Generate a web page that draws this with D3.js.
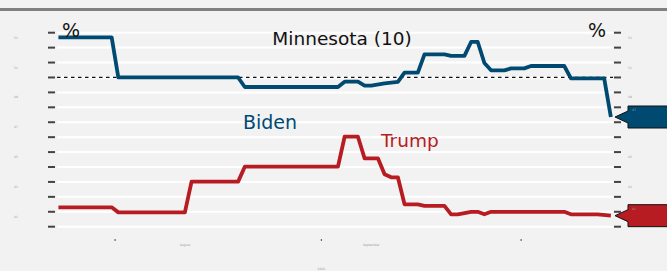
<!DOCTYPE html>
<meta charset="utf-8">

<head>
	<title>Minnesota (10)</title>
	<script src="https://d3js.org/d3.v7.min.js" charset="utf-8"></script>
</head>

<style type="text/css">

	body {
		margin: 0;
		background: #f2f2f2;
		font-family: "DejaVu Sans", sans-serif;
	}

	svg {
		display: block;
	}

	.grid line {
		stroke: #ffffff;
		stroke-width: 2px;
	}

	.ticks line {
		stroke: #444;
		stroke-width: 2px;
	}

	.tiny {
		font-size: 3px;
		fill: #999;
	}

</style>

<body>

	<script>

		var width = 667,
			height = 271;

		// poll average, %
		var biden = [
			["2020-07-23", 52.69], ["2020-07-31", 52.69], ["2020-08-01", 50.0], ["2020-08-19", 50.0],
			["2020-08-20", 49.36], ["2020-09-03", 49.36], ["2020-09-04", 49.72], ["2020-09-06", 49.72],
			["2020-09-07", 49.45], ["2020-09-08", 49.45], ["2020-09-10", 49.6], ["2020-09-12", 49.7],
			["2020-09-13", 50.32], ["2020-09-15", 50.32], ["2020-09-16", 51.55], ["2020-09-19", 51.55],
			["2020-09-20", 51.45], ["2020-09-22", 51.45], ["2020-09-23", 52.38], ["2020-09-24", 52.38],
			["2020-09-25", 50.97], ["2020-09-26", 50.48], ["2020-09-28", 50.48], ["2020-09-29", 50.61],
			["2020-10-01", 50.61], ["2020-10-02", 50.77], ["2020-10-07", 50.77], ["2020-10-08", 49.94],
			["2020-10-13", 49.94], ["2020-10-14", 47.35]
		];

		var trump = [
			["2020-07-23", 41.3], ["2020-07-31", 41.3], ["2020-08-01", 40.96], ["2020-08-11", 40.96],
			["2020-08-12", 43.02], ["2020-08-19", 43.02], ["2020-08-20", 44.02], ["2020-09-03", 44.02],
			["2020-09-04", 46.03], ["2020-09-06", 46.03], ["2020-09-07", 44.58], ["2020-09-09", 44.58],
			["2020-09-10", 43.51], ["2020-09-11", 43.31], ["2020-09-12", 43.31], ["2020-09-13", 41.5],
			["2020-09-15", 41.5], ["2020-09-16", 41.4], ["2020-09-19", 41.4], ["2020-09-20", 40.83],
			["2020-09-21", 40.83], ["2020-09-23", 41.0], ["2020-09-24", 41.0], ["2020-09-25", 40.83],
			["2020-09-26", 41.0], ["2020-10-07", 41.0], ["2020-10-08", 40.83], ["2020-10-12", 40.83],
			["2020-10-14", 40.74]
		];

		var yTicks = d3.range(40, 54);
		var yLabels = [53, 51, 49, 47, 45, 43, 41];
		var monthTicks = ["2020-08-01", "2020-09-01", "2020-10-01"];
		var monthLabels = [["2020-08-11", "August"], ["2020-09-08", "September"]];
		var threshold = 50;

		var blue = "#004a72",
			red = "#b71c22";

		// data sits at midday, month ticks at midnight
		function parse(s) {
			var p = s.split("-");
			return new Date(Date.UTC(+p[0], +p[1] - 1, +p[2], 12));
		}
		function parseDay(s) {
			var p = s.split("-");
			return new Date(Date.UTC(+p[0], +p[1] - 1, +p[2]));
		}

		var x = d3.scaleUtc()
			.domain([parseDay("2020-08-01"), parseDay("2020-10-01")])
			.range([115, 521]);

		var y = d3.scaleLinear()
			.domain([40, 53])
			.range([226.7, 32.7]);

		var svg = d3.select("body").append("svg")
			.attr("width", width)
			.attr("height", height);

		svg.append("rect")
			.attr("width", width)
			.attr("height", height)
			.attr("fill", "#f2f2f2");

		// top rule
		svg.append("rect")
			.attr("x", 0)
			.attr("y", 8)
			.attr("width", width)
			.attr("height", 3)
			.attr("fill", "#808080");

		// gridlines
		svg.append("g")
			.attr("class", "grid")
			.selectAll("line")
			.data(yTicks)
		 .enter().append("line")
			.attr("x1", 57)
			.attr("x2", 613)
			.attr("y1", function(d) { return y(d); })
			.attr("y2", function(d) { return y(d); });

		// tick marks both sides
		var ticks = svg.append("g").attr("class", "ticks");
		[[48, 55], [614, 621]].forEach(function(xs) {
			ticks.selectAll(null)
				.data(yTicks)
			 .enter().append("line")
				.attr("x1", xs[0])
				.attr("x2", xs[1])
				.attr("y1", function(d) { return y(d); })
				.attr("y2", function(d) { return y(d); });
		});

		// tiny value labels
		[14, 628].forEach(function(lx) {
			svg.selectAll(null)
				.data(yLabels)
			 .enter().append("text")
				.attr("class", "tiny")
				.attr("x", lx)
				.attr("y", function(d) { return y(d) + 6; })
				.text(function(d) { return d; });
		});

		// 50% line
		svg.append("line")
			.attr("x1", 57)
			.attr("x2", 613)
			.attr("y1", y(threshold))
			.attr("y2", y(threshold))
			.attr("stroke", "#111")
			.attr("stroke-width", 1.2)
			.attr("stroke-dasharray", "3.5,3.5");

		// month ticks + labels
		svg.selectAll(".mtick")
			.data(monthTicks)
		 .enter().append("rect")
			.attr("class", "mtick")
			.attr("x", function(d) { return x(parseDay(d)) - 0.5; })
			.attr("y", 239)
			.attr("width", 1.2)
			.attr("height", 2)
			.attr("fill", "#666");

		svg.selectAll(".mlabel")
			.data(monthLabels)
		 .enter().append("text")
			.attr("class", "tiny")
			.attr("text-anchor", "middle")
			.attr("x", function(d) { return x(parse(d[0])); })
			.attr("y", 246)
			.text(function(d) { return d[1]; });

		svg.append("text")
			.attr("class", "tiny")
			.attr("text-anchor", "middle")
			.attr("x", x(parseDay("2020-09-01")))
			.attr("y", 270)
			.text("2020");

		var line = d3.line()
			.x(function(d) { return x(parse(d[0])); })
			.y(function(d) { return y(d[1]); });

		[[biden, blue], [trump, red]].forEach(function(s) {
			svg.append("path")
				.datum(s[0])
				.attr("fill", "none")
				.attr("stroke", s[1])
				.attr("stroke-width", 3.8)
				.attr("stroke-linejoin", "round")
				.attr("d", line);

			// arrow marker on the right
			var last = s[0][s[0].length - 1],
				yv = y(last[1]);
			svg.append("path")
				.attr("d", "M615," + yv + "L628," + (yv - 6) + "L628," + (yv - 11) + "L670," + (yv - 11) +
					"L670," + (yv + 11) + "L628," + (yv + 11) + "L628," + (yv + 6) + "Z")
				.attr("fill", s[1])
				.attr("stroke", "#111")
				.attr("stroke-width", 1);
			svg.append("text")
				.attr("class", "tiny")
				.attr("x", 632)
				.attr("y", yv - 6)
				.style("fill", "#8aa")
				.text(last[1].toFixed(0));
		});

		// titles
		svg.append("text")
			.attr("x", 342)
			.attr("y", 45)
			.attr("text-anchor", "middle")
			.style("font-size", "18.5px")
			.style("fill", "#111")
			.text("Minnesota (10)");

		svg.append("text")
			.attr("x", 62)
			.attr("y", 37)
			.style("font-size", "19px")
			.style("fill", "#111")
			.text("%");

		svg.append("text")
			.attr("x", 606)
			.attr("y", 37)
			.attr("text-anchor", "end")
			.style("font-size", "19px")
			.style("fill", "#111")
			.text("%");

		svg.append("text")
			.attr("x", 243)
			.attr("y", 129)
			.style("font-size", "19px")
			.style("fill", blue)
			.text("Biden");

		svg.append("text")
			.attr("x", 381)
			.attr("y", 147)
			.style("font-size", "18.5px")
			.style("fill", red)
			.text("Trump");

	</script>

</body>
